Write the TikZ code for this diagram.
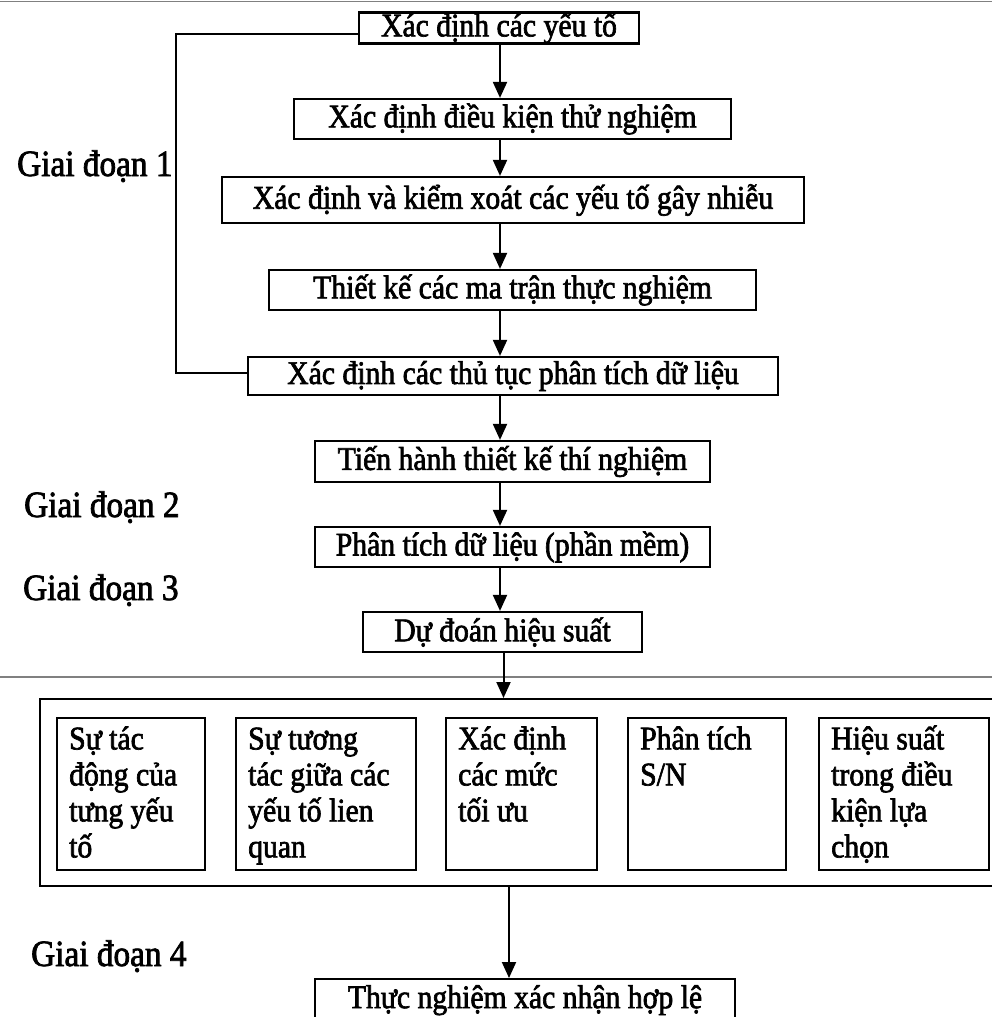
\documentclass[tikz,border=0pt]{standalone}
\usepackage{fontspec}
\setmainfont{Liberation Serif}[FakeStretch=0.9,FakeBold=2]
\usetikzlibrary{arrows.meta}
\begin{document}
\begin{tikzpicture}[x=1pt,y=-1pt,
  stepbox/.style={draw, line width=2.2pt, inner sep=0pt, font=\fontsize{33}{36}\selectfont},
  subbox/.style={draw, line width=2.2pt, inner sep=0pt, minimum height=152pt, anchor=north west},
  subtext/.style={anchor=north west, inner sep=0pt, align=left, font=\fontsize{33}{36}\selectfont, xshift=13pt, yshift=-7pt},
  phase/.style={anchor=base west, inner sep=0pt, font=\fontsize{37}{42}\selectfont},
  arr/.style={line width=2pt, -{Triangle[length=16pt,width=14pt]}},
  loopline/.style={line width=2pt},
  rule/.style={draw=gray, line width=1.2pt}]
\useasboundingbox (0,0) rectangle (992,1017);
\clip (0,0) rectangle (992,1017);
\fill[white] (0,0) rectangle (992,1017);

% page rules
\draw[rule] (0,1.5) -- (992,1.5);
\draw[rule] (0,677) -- (992,677);

% column of the arrows
\coordinate (col) at (500,0);
\coordinate (lp) at (176,0);

% main steps
\node[stepbox, minimum width=280pt, minimum height=30pt] (a) at (499,28) {Xác định các yếu tố};
\node[stepbox, minimum width=437pt, minimum height=40pt] (b) at (512.5,119) {Xác định điều kiện thử nghiệm};
\node[stepbox, minimum width=582pt, minimum height=46pt] (c) at (513,200) {Xác định và kiểm xoát các yếu tố gây nhiễu};
\node[stepbox, minimum width=487pt, minimum height=40pt] (d) at (512.5,290) {Thiết kế các ma trận thực nghiệm};
\node[stepbox, minimum width=530pt, minimum height=38pt] (e) at (513,376) {Xác định các thủ tục phân tích dữ liệu};
\node[stepbox, minimum width=395pt, minimum height=41pt] (f) at (512.5,461.5) {Tiến hành thiết kế thí nghiệm};
\node[stepbox, minimum width=395pt, minimum height=40pt] (g) at (512.5,547) {Phân tích dữ liệu (phần mềm)};
\node[stepbox, minimum width=279pt, minimum height=40pt] (h) at (502.5,632) {Dự đoán hiệu suất};

% big container
\node[draw, line width=2.2pt, inner sep=0pt, minimum width=958pt, minimum height=187pt, anchor=north west] (big) at (39,698) {};

% sub boxes
\node[subbox, minimum width=148pt] (s1) at (56,717) {};
\node[subbox, minimum width=180pt] (s2) at (235,717) {};
\node[subbox, minimum width=151pt] (s3) at (445,717) {};
\node[subbox, minimum width=158pt] (s4) at (627,717) {};
\node[subbox, minimum width=170pt] (s5) at (818,717) {};
\node[subtext] (t1) at (s1.north west) {\strut Sự tác\\động của\\tưng yếu\\tố};
\node[subtext] (t2) at (s2.north west) {\strut Sự tương\\tác giữa các\\yếu tố lien\\quan};
\node[subtext] (t3) at (s3.north west) {\strut Xác định\\các mức\\tối ưu};
\node[subtext] (t4) at (s4.north west) {\strut Phân tích\\S/N};
\node[subtext] (t5) at (s5.north west) {\strut Hiệu suất\\trong điều\\kiện lựa\\chọn};

% final step
\node[stepbox, minimum width=420pt, text height=29pt, text depth=31pt, anchor=north] (i) at (525,978) {Thực nghiệm xác nhận hợp lệ};

% phase labels
\node[phase] (p1) at (17,176) {Giai đoạn 1};
\node[phase] (p2) at (24,517) {Giai đoạn 2};
\node[phase] (p3) at (23,600) {Giai đoạn 3};
\node[phase] (p4) at (31,966) {Giai đoạn 4};

% arrows
\draw[arr] (a.south -| col) -- (b.north -| col);
\draw[arr] (b.south -| col) -- (c.north -| col);
\draw[arr] (c.south -| col) -- (d.north -| col);
\draw[arr] (d.south -| col) -- (e.north -| col);
\draw[arr] (e.south -| col) -- (f.north -| col);
\draw[arr] (f.south -| col) -- (g.north -| col);
\draw[arr] (g.south -| col) -- (h.north -| col);
\draw[arr] ([xshift=1pt]h.south) -- ([xshift=1pt]h.south |- big.north);
\coordinate (col2) at (509,0);
\draw[arr] (big.south -| col2) -- (i.north -| col2);

% feedback loop
\draw[loopline] ([yshift=-6pt]a.west) -| ([yshift=3pt]e.west -| lp) -- ([yshift=3pt]e.west);
\end{tikzpicture}
\end{document}
